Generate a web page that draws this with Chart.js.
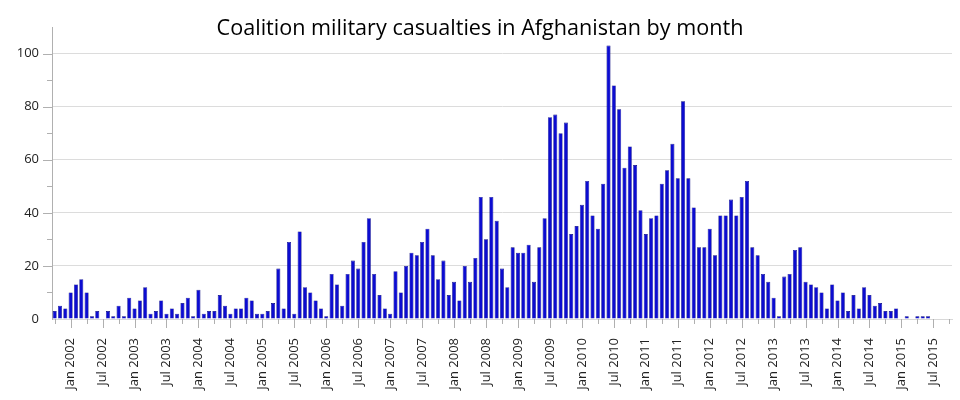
<!DOCTYPE html>
<html>
<head>
<meta charset="utf-8">
<script src="https://cdn.jsdelivr.net/npm/chart.js@4.4.1/dist/chart.umd.min.js"></script>
<style>
  body { margin: 0; background: #fff; }
</style>
</head>
<body>
<canvas id="chart" width="960" height="400"></canvas>
<script>
// monthly coalition deaths, Oct 2001 .. Oct 2015 (axis runs past the last data month)
const firstYear = 2001;
const firstMonth = 9; // October, zero based
const monthNames = ['Jan', 'Feb', 'Mar', 'Apr', 'May', 'Jun', 'Jul', 'Aug', 'Sep', 'Oct', 'Nov', 'Dec'];

const v2001 = [3, 5, 4];
const v2002 = [10, 13, 15, 10, 1, 3, 0, 3, 1, 5, 1, 8];
const v2003 = [4, 7, 12, 2, 3, 7, 2, 4, 2, 6, 8, 1];
const v2004 = [11, 2, 3, 3, 9, 5, 2, 4, 4, 8, 7, 2];
const v2005 = [2, 3, 6, 19, 4, 29, 2, 33, 12, 10, 7, 4];
const v2006 = [1, 17, 13, 5, 17, 22, 19, 29, 38, 17, 9, 4];
const v2007 = [2, 18, 10, 20, 25, 24, 29, 34, 24, 15, 22, 9];
const v2008 = [14, 7, 20, 14, 23, 46, 30, 46, 37, 19, 12, 27];
const v2009 = [25, 25, 28, 14, 27, 38, 76, 77, 70, 74, 32, 35];
const v2010 = [43, 52, 39, 34, 51, 103, 88, 79, 57, 65, 58, 41];
const v2011 = [32, 38, 39, 51, 56, 66, 53, 82, 53, 42, 27, 27];
const v2012 = [34, 24, 39, 39, 45, 39, 46, 52, 27, 24, 17, 14];
const v2013 = [8, 1, 16, 17, 26, 27, 14, 13, 12, 10, 4, 13];
const v2014 = [7, 10, 3, 9, 4, 12, 9, 5, 6, 3, 3, 4];
const v2015 = [0, 1, 0, 1, 1, 1, null, null, null, null];

const casualties = [].concat(v2001, v2002, v2003, v2004, v2005, v2006, v2007,
  v2008, v2009, v2010, v2011, v2012, v2013, v2014, v2015);

const yTickValues = [0, 20, 40, 60, 80, 100];

const months = casualties.map((_, i) => {
  const m = (firstMonth + i) % 12;
  const y = firstYear + Math.floor((firstMonth + i) / 12);
  return monthNames[m] + ' ' + y;
});

const tickMarks = {
  id: 'tickMarks',
  afterDraw(chart) {
    const c = chart.ctx;
    const xs = chart.scales.x;
    const ys = chart.scales.y;
    const area = chart.chartArea;
    c.save();
    c.strokeStyle = '#b0b0b0';
    c.lineWidth = 1;
    c.beginPath();
    months.forEach((label, i) => {
      const m = (firstMonth + i) % 12;
      if (m % 3 !== 0) return;
      const x = Math.round(xs.getPixelForValue(i)) + 0.5;
      const len = m % 6 === 0 ? 9 : 5;
      c.moveTo(x, area.bottom);
      c.lineTo(x, area.bottom + len);
    });
    for (let v = 10; v <= 100; v += 10) {
      const y = Math.round(ys.getPixelForValue(v)) + 0.5;
      const len = v % 20 === 0 ? 9 : 5;
      c.moveTo(area.left - len, y);
      c.lineTo(area.left, y);
    }
    c.stroke();
    c.restore();
  }
};

new Chart(document.getElementById('chart'), {
  type: 'bar',
  data: {
    labels: months,
    datasets: [{
      data: casualties,
      backgroundColor: '#0c0cd0',
      borderColor: '#00007a',
      borderWidth: 0.6,
      barPercentage: 0.76,
      categoryPercentage: 1
    }]
  },
  options: {
    responsive: false,
    animation: false,
    layout: { padding: 0 },
    plugins: {
      legend: { display: false },
      tooltip: { enabled: false },
      title: {
        display: true,
        text: 'Coalition military casualties in Afghanistan by month',
        color: '#000',
        font: { family: 'Open Sans', size: 21.6, weight: 'normal' },
        padding: { top: 16, bottom: -14.9 }
      }
    },
    scales: {
      x: {
        grid: { display: false },
        border: { display: true, color: '#d8d8d8' },
        ticks: {
          autoSkip: false,
          minRotation: 90,
          maxRotation: 90,
          padding: 11,
          color: '#222',
          font: { family: 'Open Sans', size: 13 },
          callback: (val, i) => {
            const m = (firstMonth + i) % 12;
            return (m === 0 || m === 6) ? months[i] : '';
          }
        },
        afterFit: (scale) => {
          scale.height = 81;
          scale.paddingLeft = 0;
          scale.paddingRight = 8;
        }
      },
      y: {
        min: 0,
        max: 110,
        border: { display: true, color: '#b0b0b0' },
        grid: {
          drawTicks: false,
          color: (ctx) => yTickValues.includes(ctx.tick.value) ? '#dcdcdc' : 'transparent'
        },
        ticks: {
          stepSize: 10,
          padding: 13,
          color: '#222',
          font: { family: 'Open Sans', size: 13 },
          callback: (v) => yTickValues.includes(v) ? v : ''
        },
        afterFit: (scale) => { scale.width = 52; }
      }
    }
  },
  plugins: [tickMarks]
});
</script>
</body>
</html>
